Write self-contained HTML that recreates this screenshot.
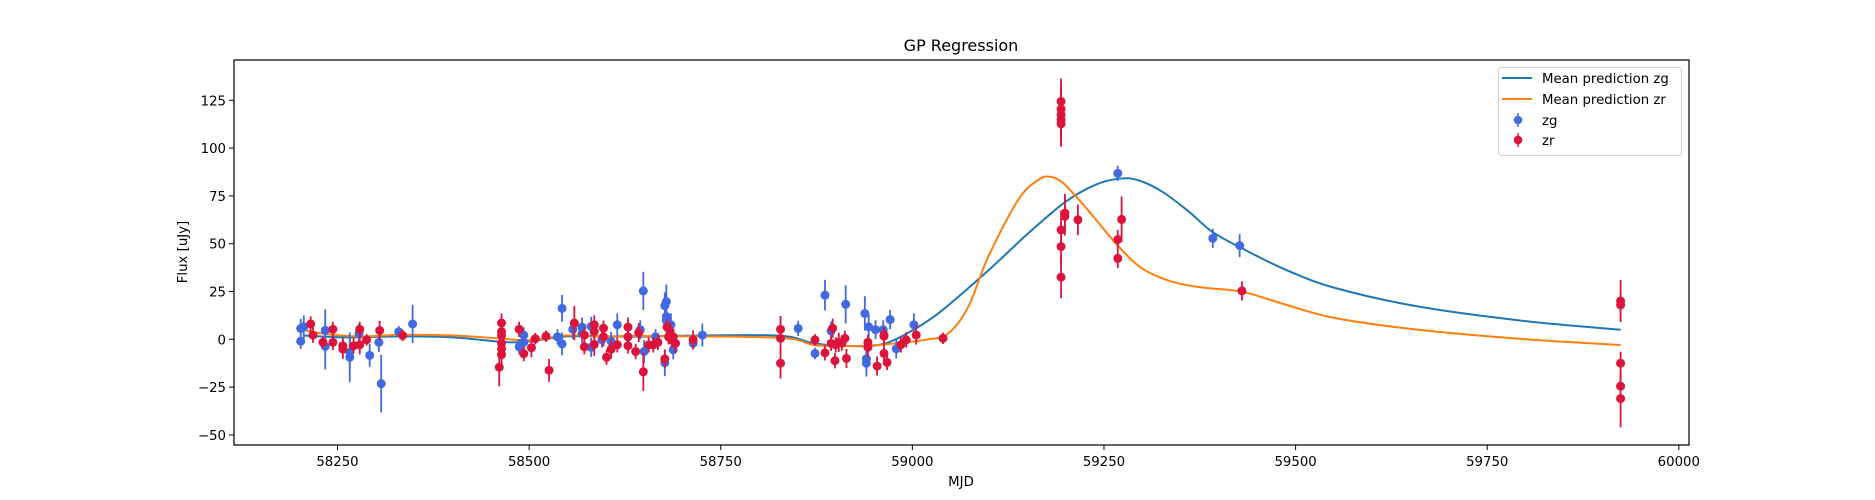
<!DOCTYPE html>
<html><head><meta charset="utf-8"><style>
html,body{margin:0;padding:0;background:#fff;}
svg{display:block;font-family:"DejaVu Sans","Liberation Sans",sans-serif;}
</style></head><body>
<svg id="chart" width="1875" height="500" viewBox="0 0 1875 500" xmlns="http://www.w3.org/2000/svg">
<rect x="0" y="0" width="1875" height="500" fill="#fff"/>
<text x="961" y="51" font-size="16" text-anchor="middle" fill="#000">GP Regression</text>
<g id="marks"></g>
<g id="axes"></g>
<text x="961" y="486" font-size="13.3" text-anchor="middle">MJD</text>
<text x="0" y="0" font-size="13.3" text-anchor="middle" transform="translate(187,252) rotate(-90)">Flux [uJy]</text>
<g>
<rect x="1498.5" y="67.5" width="183" height="88" rx="3" fill="#fff" stroke="#ccc" stroke-width="1" opacity="0.9"/>
<g><line x1="1502" y1="78" x2="1532" y2="78" stroke="#1f77b4" stroke-width="2"/><text x="1542" y="83" font-size="13.3">Mean prediction zg</text></g>
<g><line x1="1502" y1="99" x2="1532" y2="99" stroke="#ff7f0e" stroke-width="2"/><text x="1542" y="104" font-size="13.3">Mean prediction zr</text></g>
<g><line x1="1518" y1="113" x2="1518" y2="127" stroke="#4169e1" stroke-width="1.5"/><circle cx="1518" cy="120" r="4.3" fill="#4169e1"/><text x="1542" y="125" font-size="13.3">zg</text></g>
<g><line x1="1518" y1="133" x2="1518" y2="147" stroke="#dc143c" stroke-width="1.5"/><circle cx="1518" cy="140" r="4.3" fill="#dc143c"/><text x="1542" y="145" font-size="13.3">zr</text></g>
</g>
</svg>
<script>
const xTicks=[58250,58500,58750,59000,59250,59500,59750,60000];
const yTicks=[-50,-25,0,25,50,75,100,125];
const zgCurveX=[58205,58260,58330,58400,58470,58500,58550,58600,58645,58709,58826,58872,58917,58956,58989,59034,59099,59150,59200,59240,59270,59294,59326,59360,59391,59430,59488,59553,59662,59800,59924];
const zgCurveY=[2,1,1.5,1,-1.5,-1,1.5,1.5,1.4,1.9,1.9,-2.1,-3.5,-3,2.2,13.6,36,55,72,81,84,83.3,77.2,67,56.3,47.6,36.2,26.7,17,9.5,5];
const zrCurveX=[58205,58230,58280,58330,58400,58460,58500,58550,58600,58645,58826,58872,58923,58969,59021,59047,59073,59099,59138,59164,59179,59197,59229,59268,59300,59340,59380,59430,59488,59553,59662,59800,59924];
const zrCurveY=[5,3,1.5,2.3,2,0.5,-0.5,2,1.5,1.7,0.8,-3,-3.5,-2.5,0,3.1,17,43.2,72.9,83.3,85,81.6,67.6,49,37,30,27,24.9,18,11,4.9,0,-3];
const zgT=[58202,58202,58206,58234,58234,58266,58266,58278,58292,58304,58307,58330,58348,58487,58493,58493,58537,58543,58543,58557,58569,58569,58581,58581,58595,58607,58615,58645,58649,58650,58665,58677,58677,58679,58679,58679,58685,58688,58714,58726,58851,58873,58886,58894,58913,58938,58943,58940,58940,58952,58962,58971,58979,59002,59268,59392,59427];
const zgF=[5.7,-1,6.5,4.7,-3.7,-9.4,-6.8,3.1,-8.4,-1.6,-23.2,3.9,8,-3.9,2.2,-1.6,1.3,16.2,-2.4,5.2,6.4,3.1,-4.2,6.7,-0.3,-1.1,7.6,5,25.3,-6.4,1.3,17.6,-12.3,19.7,11.9,9.8,7.6,-5.5,-2.1,2.2,5.7,-7.4,23.1,4.4,18.3,13.5,6.5,-10.2,-12.5,5,5,10.3,-5,7.6,86.8,52.8,49];
const zgE=[5,4,6,11,12,13,8,5,6,5,15,3,10,4,4,5,4,7,6,5,5,5,5,5,4,5,6,5,10,6,4,7,7,9,8,5,6,5,3,6,4,3,8,5,10,9,7,6,7,5,5,5,5,6,4,5,6];
const zrT=[58215,58218,58231,58244,58244,58257,58257,58271,58279,58279,58288,58305,58335,58461,58464,58464,58464,58464,58464,58464,58487,58493,58503,58508,58522,58526,58559,58572,58572,58585,58585,58585,58597,58597,58601,58607,58615,58629,58629,58629,58639,58643,58649,58656,58662,58668,58677,58680,58682,58684,58686,58688,58691,58714,58828,58828,58828,58873,58886,58896,58894,58900,58904,58908,58912,58914,58899,58942,58942,58954,58963,58963,58963,58967,58985,58992,59005,59040,59194,59194,59194,59194,59194,59194,59194,59194,59199,59199,59216,59268,59268,59273,59430,59924,59924,59924,59924,59924];
const zrF=[8,2.2,-1.6,5.2,-1.6,-3.4,-5.2,-3.4,5.2,-2.9,-0.3,4.6,2,-14.6,8.5,4,2,-2,-5,-8,5.2,-7.5,-4.4,0.3,1.6,-16.2,8.5,2.2,-3.9,7.6,4.1,-2.7,5.8,1.3,-9.4,-5.2,-2.9,1.3,6.4,-3.4,-6.4,3.5,-17,-2.9,-2.9,-1.6,-10.3,6.4,1.3,4.1,-0.3,1.3,-2.1,-0.3,5.2,0.5,-12.5,-0.3,-7.1,5.8,-2.1,-2.9,-1.6,-2,0.5,-10,-11.2,-1.6,-4.2,-14,2.2,1.6,-7.4,-12.1,-2.9,-0.3,2.2,0.5,124.4,120.4,117.4,114.8,112.7,57.2,48.5,32.5,66,64.3,62.5,52.2,42.3,62.7,25.3,20,18,-12.5,-24.5,-31];
const zrE=[4,4,3,4,4,4,5,4,4,5,3,5,3,10,5,6,5,5,6,6,4,4,5,3,3,6,9,4,4,5,5,6,4,5,4,5,4,4,5,4,4,5,10,4,4,4,5,4,4,5,4,4,5,5,7,8,8,3,4,5,4,4,5,4,4,5,4,4,5,5,4,4,5,4,4,4,5,3,12,12,12,12,12,10,10,11,10,10,8,5,5,12,5,11,7,6,7,15];
const NS='http://www.w3.org/2000/svg';
const L=234,R=1689,T=60,B=445;
function xs(v){return 337.5+(v-58250)*0.76648;}
function ys(v){return 339.3-v*1.912;}
function mk(tag,attrs,parent){const e=document.createElementNS(NS,tag);for(const k in attrs)e.setAttribute(k,attrs[k]);parent.appendChild(e);return e;}
const marks=document.getElementById('marks');
const axes=document.getElementById('axes');
function curvePath(X,Y){
  const p=X.map((x,i)=>[xs(x),ys(Y[i])]);
  let d='M'+p[0][0]+','+p[0][1];
  for(let i=0;i<p.length-1;i++){
    const p0=p[Math.max(0,i-1)],p1=p[i],p2=p[i+1],p3=p[Math.min(p.length-1,i+2)];
    const c1=[p1[0]+(p2[0]-p0[0])/6,p1[1]+(p2[1]-p0[1])/6];
    const c2=[p2[0]-(p3[0]-p1[0])/6,p2[1]-(p3[1]-p1[1])/6];
    d+=' C'+c1[0]+','+c1[1]+' '+c2[0]+','+c2[1]+' '+p2[0]+','+p2[1];
  }
  return d;
}
const lz=mk('path',{d:curvePath(zgCurveX,zgCurveY),fill:'none',stroke:'#1f77b4','stroke-width':2},marks);


const lr=mk('path',{d:curvePath(zrCurveX,zrCurveY),fill:'none',stroke:'#ff7f0e','stroke-width':2},marks);


function points(T_,F,E,color,name){
  const g=mk('g',{},marks);
  
  
  T_.forEach((t,i)=>{
    const x=xs(t),y=ys(F[i]);
    const bar=mk('line',{x1:x,x2:x,y1:ys(F[i]+E[i]),y2:ys(F[i]-E[i]),stroke:color,'stroke-width':1.8},g);
    
    
    const c=mk('circle',{cx:x,cy:y,r:4.5,fill:color},g);
    
    
  });
}
points(zgT,zgF,zgE,'#4169e1','zg');
points(zrT,zrF,zrE,'#dc143c','zr');
const fr=mk('rect',{x:L,y:T,width:R-L,height:B-T,fill:'none',stroke:'#000','stroke-width':1.2},axes);


xTicks.forEach(t=>{
  const x=xs(t);
  const tk=mk('line',{x1:x,x2:x,y1:B,y2:B+5,stroke:'#000','stroke-width':1},axes);
  
  
  const tx=mk('text',{x:x,y:B+21,'font-size':13.3,'text-anchor':'middle'},axes);
  tx.textContent=t;
  
  
});
yTicks.forEach(t=>{
  const y=ys(t);
  const tk=mk('line',{x1:L-5,x2:L,y1:y,y2:y,stroke:'#000','stroke-width':1},axes);
  
  
  const tx=mk('text',{x:L-8,y:y+5,'font-size':13.3,'text-anchor':'end'},axes);
  tx.textContent=t<0?'\u2212'+Math.abs(t):t;
  
  
});
</script>
</body></html>
